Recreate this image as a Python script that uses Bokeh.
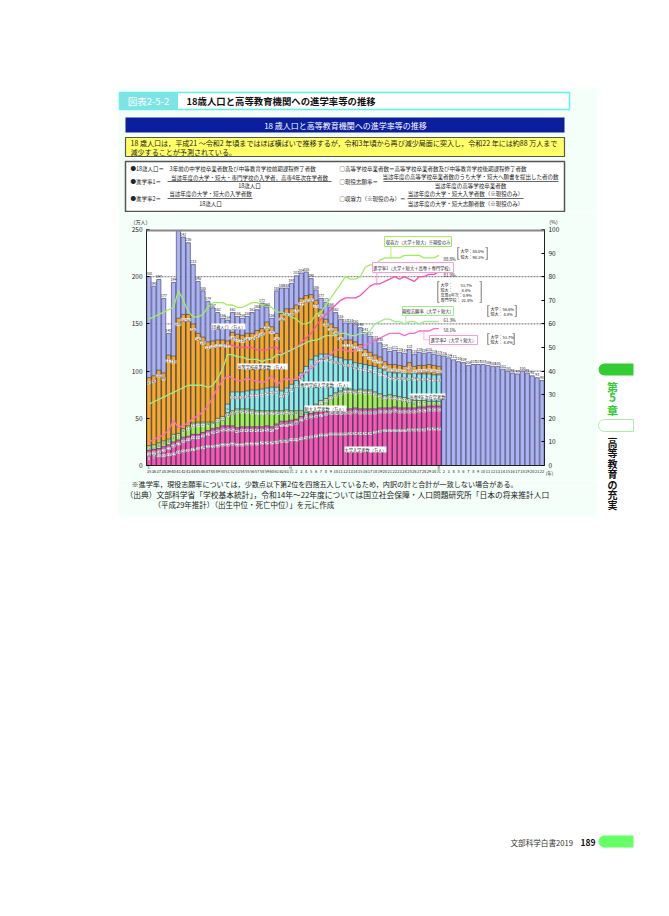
from bokeh.plotting import figure
from bokeh.layouts import column, row
from bokeh.models import (Range1d, LinearAxis, FixedTicker, Label, BoxAnnotation, Span,
                          ColumnDataSource)
from bokeh.embed import file_html
from bokeh.resources import INLINE
from bokeh.core.properties import value

FONT = "Noto Sans CJK JP"

years = list(range(1960, 2041))
tick_labels = ["35","36","37","38","39","40","41","42","43","44","45","46","47","48","49","50",
               "51","52","53","54","55","56","57","58","59","60","61","62","63","元","2","3","4",
               "5","6","7","8","9","10","11","12","13","14","15","16","17","18","19","20","21",
               "22","23","24","25","26","27","28","29","30","元","2","3","4","5","6","7","8","9",
               "10","11","12","13","14","15","16","17","18","19","20","21","22"]

pop18 = [200,190,197,177,140,194,249,242,236,213,195,185,174,167,162,156,154,162,158,156,
         158,162,165,172,168,156,185,188,188,193,201,204,205,198,186,177,173,168,162,155,
         151,151,150,146,141,137,133,130,124,121,122,120,119,123,118,120,119,120,118,117,
         116,114,112,110,109,106,107,107,107,106,105,105,102,100,98,97,100,98,95,93,90]
grad = [93,95,101,98,117,116,156,160,160,150,140,136,131,132,133,133,132,141,139,138,
        140,140,143,145,152,147,140,161,166,166,170,177,180,181,175,165,155,150,146,140,
        133,133,131,128,123,120,117,115,110,107,107,106,105,109,105,106,106,107,106,105]
grad_years = years[:len(grad)]
cyan_years = years[16:60]
cyan_top = [65,78,78,78,79,80,80,81,82,83,83,79,82,86,90,98,105,112,116,118,118,117,115,114,
            112,112,109,108,107,106,105,103,101,99,98,98,98,97,98,97,97,97,96,96]
green_top = [21,22,24,26,28,33,34,39,42,45,46,46,46,46,50,52,56,58,60,60,60,59,58,58,
             58,58,58,58,59,58,58,58,56,62,65,69,71,74,77,79,81,81,80,81,80,80,78,76,74,
             75,74,73,72,71,69,69,69,68,68,68]
pink_top = [16,17,18,20,22,25,27,30,31,33,33,35,37,39,40,42,42,42,40,41,41,41,41,41,42,41,
            44,47,47,48,49,52,54,55,56,57,58,59,59,59,60,60,61,60,60,60,60,61,61,61,62,61,
            61,61,61,62,62,63,63,63]
genyaku = [8,9,10,10,11,12,14,15,16,17,18,19,20,20,21,22,22,23,22,22,23,23,23,24,24,24,
           25,26,26,27,27,28,29,30,31,32,32,33,33,33,33,34,34,34,34,34,35,36,37,37,37,37,
           37,38,38,38,38,39,39,39]

rate_years = years[:60]
shuyo = [62,63,64,65,66,67,74,70,65,63,63,64,67,69,69,69,68,68,67,67,68,69,69,68,68,67,
         65,65,64,63,62,60,60,61,64,65,68,71,74,77,80,79,79,80,84,85,85,87,88,88,88,88,
         89,89,89,89,88,88,88,89]
shin1_years = years[16:60]
shin1 = [51,51,50,50,50,50,49,49,49,50,50,47,48,49,50,52,54,56,59,62,64,66,68,70,71,71,71,
         72,74,76,77,77,78,79,80,79,80,79,78,80,80,81,81,82]
shigan = [26,27,28,29,30,31,32,33,34,34,34,34,33,34,37,41,47,47,46,46,45,45,45,44,45,45,
          47,47,48,49,50,51,52,53,53,54,55,55,55,56,56,55,55,56,56,57,60,61,62,62,61,61,
          60,61,61,60,61,61,61,61]
shin2 = [10,11,12,13,15,19,16,17,18,20,21,23,25,29,33,36,38,37,36,36,37,36,36,35,36,38,
         34,36,37,36,37,38,40,41,43,45,46,47,49,49,49,48,49,50,51,52,53,54,55,56,56,56,
         55,56,56,57,57,57,58,58]

NAVY = "#33336a"
MINT = "#f3fff8"
LEFT_ROUND = {"top_left": 6, "bottom_left": 6, "top_right": 0, "bottom_right": 0}

HEAD_H = 212
CHART_X, CHART_W = 118, 479
CHART_H = 268
LEFT_W = CHART_X + CHART_W
FOOT_H = 380
FOOT_Y = HEAD_H + CHART_H
PAGE_H = FOOT_Y + FOOT_H


def canvas(w, h):
    f = figure(width=w, height=h, output_backend="svg", toolbar_location=None,
               x_axis_location=None, y_axis_location=None, x_range=Range1d(0, 1),
               y_range=Range1d(0, 1), min_border=0, min_border_left=0, min_border_right=0,
               min_border_top=0, min_border_bottom=0, outline_line_color=None,
               background_fill_color="#ffffff", border_fill_color="#ffffff", frame_align=False)
    f.xgrid.visible = False
    f.ygrid.visible = False
    return f


class Sheet:
    """Draws boxes and texts on figure f, in page coordinates."""

    def __init__(self, f, ox, oy, side="center"):
        self.f, self.ox, self.oy, self.side = f, ox, oy, side

    def box(self, l, t, r, b, fill, line=None, lw=1, radius=0, lv="annotation"):
        self.f.add_layout(BoxAnnotation(
            left=l - self.ox, right=r - self.ox, top=t - self.oy, bottom=b - self.oy,
            left_units="canvas", right_units="canvas", top_units="canvas", bottom_units="canvas",
            fill_color=fill, fill_alpha=1, line_color=line, line_width=lw,
            line_alpha=1 if line else 0, level=lv, border_radius=radius, editable=False))

    def text(self, x, y, text, size=6, color="#222222", align="left", style="normal", bg=None,
             side=None):
        lab = Label(x=x - self.ox, y=y - self.oy, x_units="canvas", y_units="canvas", text=text,
                    text_font=FONT, text_font_size=f"{size}px", text_color=color,
                    text_align=align, text_baseline="middle", text_font_style=style,
                    background_fill_color=bg, background_fill_alpha=1 if bg else 0,
                    level="annotation")
        self.f.add_layout(lab, side or self.side)


# ---------- header ----------
head = canvas(LEFT_W, HEAD_H)
H = Sheet(head, 0, 0)
H.box(118, 88, 597, HEAD_H, MINT, lv="underlay")
H.box(119, 92, 569, 109, "#ffffff", "#66eeee", 1.5)
H.box(119, 92, 177, 109, "#7de3e3", "#66eeee", 1)
H.box(125, 117, 564, 132, "#0a1e9e")
H.box(125, 137, 564, 156, "#ffff66", "#555555", 1.2)
H.box(125, 161, 564, 211, "#ffffff", "#555555", 1.5)
H.text(148, 100, "図表2-5-2", 9.5, "#ffffff", "center")
H.text(186, 100, "18歳人口と高等教育機関への進学率等の推移", 9.4, "#111111", style="bold")
H.text(345, 124.5, "18 歳人口と高等教育機関への進学率等の推移", 8, "#ffffff", "center")
H.text(130, 142, "18 歳人口は，平成21 ～令和2 年頃まではほぼ横ばいで推移するが，令和3年頃から再び減少局面に突入し，令和22 年には約88 万人まで", 7.05)
H.text(130, 151, "減少することが予測されている。", 7.05)
F = 5.5
H.text(130, 168, "●18歳人口＝　3年前の中学校卒業者数及び中等教育学校前期課程修了者数", F)
H.text(339, 168, "○高等学校卒業者数＝高等学校卒業者数及び中等教育学校後期課程修了者数", F)
H.text(130, 181, "●進学率1＝", F)
H.text(249, 177, "当該年度の大学・短大・専門学校の入学者，高専4年次在学者数", F, align="center")
H.text(249, 185, "18歳人口", F, align="center")
H.text(339, 181, "○現役志願率＝", F)
H.text(470, 176.5, "当該年度の高等学校卒業者数のうち大学・短大へ願書を提出した者の数", F, align="center")
H.text(470, 185, "当該年度の高等学校卒業者数", F, align="center")
H.text(130, 198, "●進学率2＝", F)
H.text(210, 193, "当該年度の大学・短大の入学者数", F, align="center")
H.text(210, 203, "18歳人口", F, align="center")
H.text(339, 198, "○収容力（※現役のみ）＝", F)
H.text(465, 193, "当該年度の大学・短大入学者数（※現役のみ）", F, align="center")
H.text(465, 203, "当該年度の大学・短大志願者数（※現役のみ）", F, align="center")
H.box(167, 180.6, 331, 181.2, "#333333")
H.box(383, 180.6, 558, 181.2, "#333333")
H.box(167, 197.6, 252, 198.2, "#333333")
H.box(407, 197.6, 523, 198.2, "#333333")

# ---------- chart ----------
p = figure(width=CHART_W, height=CHART_H, output_backend="svg", toolbar_location=None,
           x_range=Range1d(1959.5, 2040.5), y_range=Range1d(0, 250),
           min_border_left=146 - CHART_X, min_border_right=CHART_X + CHART_W - 544,
           min_border_top=229 - HEAD_H, min_border_bottom=HEAD_H + CHART_H - 465,
           background_fill_color="#ffffff", border_fill_color=MINT, outline_line_color=None,
           frame_align=False)
p.margin = (0, 0, 0, CHART_X)
p.extra_y_ranges = {"pct": Range1d(0, 100)}
p.xgrid.visible = False
p.ygrid.visible = False
C = Sheet(p, CHART_X, HEAD_H)

for lv in (200, 150, 100):
    p.add_layout(Span(location=lv, dimension="width", line_color="#333333", line_dash="2 1",
                      line_width=0.7, level="underlay"))

W = 0.86
p.vbar(x=years, top=pop18, width=W, fill_color="#abb4f0", line_color=NAVY, line_width=0.6)
p.vbar(x=grad_years, top=grad, width=W, fill_color="#f8ab1e", line_color=NAVY, line_width=0.6)
p.vbar(x=cyan_years, top=cyan_top, width=W, fill_color="#8aeee2", line_color=NAVY, line_width=0.6)
p.vbar(x=grad_years, top=green_top, width=W, fill_color="#a4f04a", line_color=NAVY, line_width=0.6)
p.vbar(x=grad_years, top=pink_top, width=W, fill_color="#fb57ae", line_color=NAVY, line_width=0.6)

p.line(rate_years, shuyo, y_range_name="pct", line_color="#9cf05c", line_width=1.3)
p.line(shin1_years, shin1, y_range_name="pct", line_color="#ff4fb0", line_width=1.3)
p.line(rate_years, shigan, y_range_name="pct", line_color="#9cee8a", line_width=1.3)
p.line(rate_years, shin2, y_range_name="pct", line_color="#ff6cc8", line_width=1.3)


def lab(xs, ys, texts, bg="#ffffff", dy=0):
    src = ColumnDataSource(dict(x=xs, y=[v + dy for v in ys], t=[str(t) for t in texts]))
    kw = dict(background_fill_color=bg) if bg else {}
    p.text("x", "y", text="t", source=src, text_font=value(FONT), text_font_size="3.6px",
           text_align="center", text_baseline="middle", text_color="#222222", **kw)


lab(years, pop18, pop18, None, 3)
lab(grad_years, grad, grad, dy=-6)
lab(cyan_years, cyan_top, [c - green_top[16 + i] for i, c in enumerate(cyan_top)], dy=-6)
lab(grad_years, green_top, [g - k for g, k in zip(green_top, pink_top)], dy=-3)
lab(grad_years, pink_top, pink_top, dy=-4)
lab(grad_years, genyaku, genyaku)

p.xaxis.ticker = FixedTicker(ticks=years)
p.xaxis.major_label_overrides = {y: t for y, t in zip(years, tick_labels)}
p.xaxis.major_label_text_font_size = "4px"
p.xaxis.major_label_text_font = FONT
p.xaxis.major_label_text_color = "#222222"
p.xaxis.major_label_standoff = 2
p.xaxis.major_tick_out = 0
p.xaxis.major_tick_in = 0
p.xaxis.major_tick_line_color = None
p.xaxis.minor_tick_line_color = None
p.xaxis.axis_line_color = "#222222"
p.yaxis.ticker = FixedTicker(ticks=[0, 50, 100, 150, 200, 250])
p.yaxis.major_label_text_font_size = "6.5px"
p.yaxis.major_label_text_font = FONT
p.yaxis.major_label_text_color = "#222222"
p.yaxis.major_tick_in = 3
p.yaxis.major_tick_out = 0
p.yaxis.axis_line_color = "#222222"
p.yaxis.major_label_standoff = 4
p.yaxis.minor_tick_line_color = None
ax = LinearAxis(y_range_name="pct", ticker=FixedTicker(ticks=list(range(0, 101, 10))),
                major_label_text_font_size="6.5px", major_label_text_font=FONT,
                major_label_text_color="#222222", major_tick_in=3, major_tick_out=0,
                major_label_standoff=4, axis_line_color="#222222", minor_tick_line_color=None)
p.add_layout(ax, "right")

# side-panel texts come after the axis, so that the axis stays next to the frame
C.text(140, 221, "（万人）", 5, align="center", side="above")
C.text(553, 221, "（%）", 5, align="center", side="right")
C.text(549, 472, "(年)", 4.5, align="center", side="right")
C.text(148, 467, "S", 3.5, align="center", side="right")
C.text(290, 467, "H", 3.5, align="center", side="right")
C.text(438, 467, "R", 3.5, align="center", side="right")

C.box(146, 227, 544, 231, "#888888")

TF = 4.2
WH = "#ffffff"
C.text(228, 326, "18歳人口（万人）", TF, align="center", bg=WH)
C.text(262, 366, "高等学校卒業者数（万人）", TF, align="center", bg=WH)
C.text(325, 384, "専門学校入学者数（万人）", TF, align="center", bg=WH)
C.text(325, 408, "短大入学者数（万人）", TF, align="center", bg=WH)
C.text(427, 396, "高専4年次在学者数", TF, align="center", bg=WH)
C.text(365, 449, "大学入学者数（万人）", TF, align="center", bg=WH)

C.box(390, 246, 390.8, 258, "#9cf05c")
C.box(384, 236, 451, 246, "#ffffff", "#9cf05c", 1)
C.text(417.5, 241, "収容力（大学＋短大）※現役のみ", 4.3, align="center")
C.box(376, 272, 376.8, 285, "#ff7fd0")
C.box(372, 262, 453, 272, "#ffffff", "#ff9ad8", 1)
C.text(412.5, 267, "進学率1（大学＋短大＋高専＋専門学校）", 4.3, align="center")
C.box(405, 315, 405.8, 322, "#9cee8a")
C.box(402, 306, 453, 315, "#ffffff", "#9cee8a", 1)
C.text(427.5, 310.5, "現役志願率（大学＋短大）", 4.3, align="center")
C.box(423, 330, 423.8, 339, "#ff9ad8")
C.box(423, 339, 429, 339.8, "#ff9ad8")
C.box(429, 335, 477, 344, "#ffffff", "#ff9ad8", 1)
C.text(453, 339.5, "進学率2（大学＋短大）", 4.3, align="center")

C.text(443, 258, "88.8%", 4.3)
C.text(443, 274, "81.9%", 4.3)
C.text(443, 319, "61.3%", 4.3)
C.text(443, 329, "58.1%", 4.3)


def bracket(l, t, r, b):
    for a in ((l, t, l + 0.7, b), (r - 0.7, t, r, b), (l, t, l + 2, t + 0.6), (l, b - 0.6, l + 2, b),
              (r - 2, t, r, t + 0.6), (r - 2, b - 0.6, r, b)):
        C.box(*a, "#444444")


bracket(457, 247, 487, 259)
C.text(460, 250, "大学：88.0%", 4)
C.text(460, 256, "短大：90.3%", 4)
bracket(437, 281, 481, 302)
for i, s in enumerate(["大学：　　53.7%", "短大：　　 4.4%", "高専4年次：0.9%", "専門学校： 22.8%"]):
    C.text(440, 284 + i * 5, s, 4)
bracket(487, 305, 516, 316)
C.text(490, 308, "大学：56.6%", 4)
C.text(490, 313, "短大：  4.4%", 4)
bracket(487, 333, 514, 344)
C.text(490, 336, "大学：53.7%", 4)
C.text(490, 341, "短大：  4.4%", 4)

# ---------- footer ----------
foot = canvas(LEFT_W, FOOT_H)
B = Sheet(foot, 0, FOOT_Y)
B.box(118, FOOT_Y, 597, 516, MINT, lv="underlay")
B.text(131, 483, "※進学率，現役志願率については，少数点以下第2位を四捨五入しているため，内訳の計と合計が一致しない場合がある。", 7.1)
B.text(125, 494, "（出典）文部科学省「学校基本統計」，令和14年～22年度については国立社会保障・人口問題研究所「日本の将来推計人口", 7.75)
B.text(153, 504, "（平成29年推計）（出生中位・死亡中位）」を元に作成", 7.5)
B.text(510, 842, "文部科学白書2019", 7.6, "#333333")
B.text(580, 842, "189", 8.5, "#111111", style="bold")

# ---------- side tab, full page height ----------
side = canvas(669 - LEFT_W, PAGE_H)
S = Sheet(side, LEFT_W, 0)
S.box(598, 363, 633, 375, "#33cc33", radius=LEFT_ROUND)
S.box(598, 419, 633, 431, "#ffffff", "#a8eea8", 1, radius=LEFT_ROUND)
S.box(598, 835, 633, 847, "#66ff66", radius=LEFT_ROUND)
S.text(612, 386, "第", 11, "#33cc33", "center", "bold")
S.text(612, 397, "5", 12, "#33cc33", "center", "bold")
S.text(612, 409, "章", 11, "#33cc33", "center", "bold")
for i, ch in enumerate("高等教育の充実"):
    S.text(612, 442 + i * 10.4, ch, 10, "#111111", "center", "bold")

page = row(column(head, p, foot), side)
open("out.html", "w").write(file_html(page, INLINE))
